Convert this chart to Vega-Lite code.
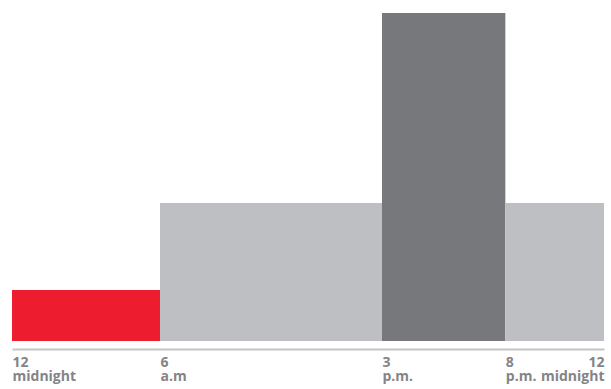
{
  "$schema": "https://vega.github.io/schema/vega-lite/v6.json",
  "width": 592,
  "height": 341,
  "autosize": {"type": "none"},
  "padding": {"left": 12, "top": 0, "right": 7, "bottom": 48},
  "background": "white",
  "config": {"view": {"stroke": null}},
  "data": {
    "values": [
      {"start": 0, "end": 6, "value": 51, "tone": "night"},
      {"start": 6, "end": 15, "value": 138, "tone": "day"},
      {"start": 15, "end": 20, "value": 328, "tone": "peak"},
      {"start": 20, "end": 24, "value": 138, "tone": "evening"}
    ]
  },
  "mark": {"type": "bar"},
  "encoding": {
    "x": {
      "field": "start",
      "type": "quantitative",
      "scale": {"domain": [0, 24], "nice": false, "zero": true},
      "axis": {
        "title": null,
        "values": [0, 6, 15, 20, 24],
        "grid": false,
        "ticks": false,
        "offset": 8,
        "domainColor": "#c4c4c6",
        "domainWidth": 2,
        "labelFont": "Open Sans",
        "labelFontWeight": "bold",
        "labelFontSize": 14,
        "labelColor": "#848487",
        "labelLineHeight": 14,
        "labelPadding": 6,
        "labelBaseline": "top",
        "labelFlush": false,
        "labelOverlap": false,
        "labelAlign": {"condition": {"test": "datum.value == 24", "value": "right"}, "value": "left"},
        "labelExpr": "datum.value == 0 ? ['12', 'midnight'] : datum.value == 6 ? ['6', 'a.m'] : datum.value == 15 ? ['3', 'p.m.'] : datum.value == 20 ? ['8', 'p.m.'] : ['12', 'midnight']"
      }
    },
    "x2": {"field": "end"},
    "y": {
      "field": "value",
      "type": "quantitative",
      "scale": {"domain": [0, 341], "nice": false},
      "axis": null
    },
    "y2": {"datum": 0},
    "color": {
      "field": "tone",
      "type": "nominal",
      "scale": {
        "domain": ["night", "day", "peak", "evening"],
        "range": ["#ed1c2e", "#bebfc3", "#76787c", "#bebfc3"]
      },
      "legend": null
    }
  }
}
